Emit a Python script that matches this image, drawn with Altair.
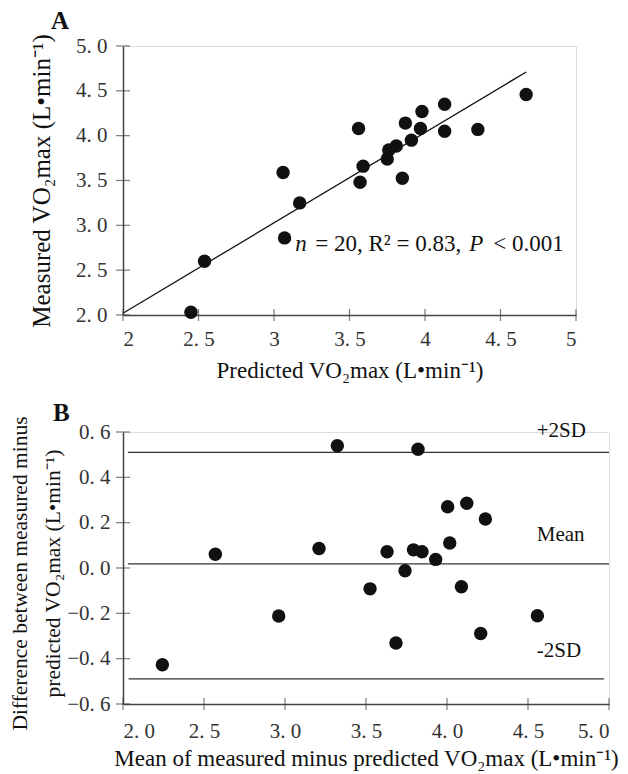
import altair as alt
import pandas as pd

# ---------------- Panel A data ----------------
pred_a = [2.45, 2.54, 3.06, 3.07, 3.17, 3.56, 3.57, 3.59, 3.75, 3.76,
          3.81, 3.85, 3.87, 3.91, 3.97, 3.98, 4.13, 4.13, 4.35, 4.67]
meas_a = [2.03, 2.60, 3.59, 2.86, 3.25, 4.08, 3.48, 3.66, 3.74, 3.84,
          3.885, 3.525, 4.14, 3.95, 4.08, 4.27, 4.05, 4.35, 4.07, 4.46]
fit_x = [2.0, 4.67]
fit_y = [2.02, 4.71]
ticks_a_x = [2.0, 2.5, 3.0, 3.5, 4.0, 4.5, 5.0]
ticks_a_y = [2.0, 2.5, 3.0, 3.5, 4.0, 4.5, 5.0]

# ---------------- Panel B data ----------------
mean_b = [2.243, 2.570, 2.961, 3.210, 3.323, 3.525, 3.630, 3.685, 3.741, 3.793,
          3.821, 3.846, 3.930, 4.004, 4.017, 4.089, 4.122, 4.208, 4.237, 4.558]
diff_b = [-0.427, 0.061, -0.212, 0.086, 0.539, -0.092, 0.072, -0.331, -0.012, 0.080,
          0.524, 0.072, 0.038, 0.270, 0.110, -0.083, 0.286, -0.289, 0.216, -0.211]
lim_names = ["+2SD", "Mean", "-2SD"]
lim_vals = [0.51, 0.0185, -0.489]
lim_x0 = [2.03, 2.03, 2.035]
lim_x1 = [5.0, 5.0, 4.97]
lim_label_x = [4.554, 4.554, 4.554]
lim_label_y = [0.603, 0.146, -0.368]
ticks_b_x = [2.0, 2.5, 3.0, 3.5, 4.0, 4.5, 5.0]
ticks_b_y = [-0.6, -0.4, -0.2, 0.0, 0.2, 0.4, 0.6]

SERIF = "Liberation Serif"
AXIS_C = "#444444"
LABEL_C = "#333333"
DOT_C = "#111111"

dfA = pd.DataFrame({"pred": pred_a, "meas": meas_a})
dfFit = pd.DataFrame({"x": fit_x, "y": fit_y})
dfTAx = pd.DataFrame({"v": ticks_a_x, "b": [ticks_a_y[0]] * len(ticks_a_x)})
dfTAy = pd.DataFrame({"v": ticks_a_y, "b": [ticks_a_x[0]] * len(ticks_a_y)})
dfAnn = pd.DataFrame({"x": [3.141], "y": [2.713]})

dfB = pd.DataFrame({"m": mean_b, "d": diff_b})
dfLim = pd.DataFrame({"name": lim_names, "v": lim_vals, "x0": lim_x0, "x1": lim_x1,
                      "lx": lim_label_x, "ly": lim_label_y})
dfTBx = pd.DataFrame({"v": ticks_b_x, "b": [ticks_b_y[0]] * len(ticks_b_x)})
dfTBy = pd.DataFrame({"v": ticks_b_y, "b": [ticks_b_x[0]] * len(ticks_b_y)})

dot_expr = "replace(format(datum.value, '.1f'), '.', '. ')"
ax_a_expr = "datum.value % 1 === 0 ? format(datum.value, 'd') : replace(format(datum.value, '.1f'), '.', '. ')"

common_axis = dict(ticks=False, tickSize=0, grid=False, domainColor=AXIS_C, domainWidth=1.5,
                   labelFont=SERIF, labelFontSize=21, labelColor=LABEL_C,
                   titleFont=SERIF, titleFontWeight="normal", titleColor="#111111")

# ---------------- Panel A ----------------
xA = alt.X("pred:Q", scale=alt.Scale(domain=[2, 5], nice=False, zero=False),
           axis=alt.Axis(values=ticks_a_x, labelExpr=ax_a_expr, labelPadding=13,
                         title="Predicted VO₂max (L•min⁻¹)", titleFontSize=23,
                         titlePadding=10, **common_axis))
yA = alt.Y("meas:Q", scale=alt.Scale(domain=[2, 5], nice=False, zero=False),
           axis=alt.Axis(values=ticks_a_y, labelExpr=dot_expr, labelPadding=16,
                         title="Measured VO₂max (L•min⁻¹)", titleFontSize=25,
                         titlePadding=21, **common_axis))

ptsA = alt.Chart(dfA).mark_circle(size=180, color=DOT_C, opacity=1).encode(x=xA, y=yA)
fitA = alt.Chart(dfFit).mark_line(color="#111111", strokeWidth=1.3).encode(x="x:Q", y="y:Q")
tickAx = alt.Chart(dfTAx).mark_tick(orient="vertical", size=12, thickness=1.2, color=AXIS_C).encode(
    x="v:Q", y="b:Q")
tickAy = alt.Chart(dfTAy).mark_tick(orient="horizontal", size=14, thickness=1.2, color=AXIS_C).encode(
    x="b:Q", y="v:Q")

ann_base = alt.Chart(dfAnn).encode(x="x:Q", y="y:Q")
ann_kw = dict(align="left", baseline="alphabetic", font=SERIF, fontSize=23, color="#111111")
annA = alt.layer(
    ann_base.mark_text(fontStyle="italic", dx=0, **ann_kw).encode(text=alt.value("n")),
    ann_base.mark_text(dx=20, **ann_kw).encode(text=alt.value("= 20, R² = 0.83,")),
    ann_base.mark_text(fontStyle="italic", dx=174, **ann_kw).encode(text=alt.value("P")),
    ann_base.mark_text(dx=198, **ann_kw).encode(text=alt.value("< 0.001")),
)

chartA = alt.layer(fitA, tickAx, tickAy, ptsA, annA).properties(
    width=453, height=269,
    title=alt.TitleParams("A", anchor="start", frame="group", dx=-72, font=SERIF,
                          fontSize=25, fontWeight="bold", color="#111111", offset=0),
)

# ---------------- Panel B ----------------
xB = alt.X("m:Q", scale=alt.Scale(domain=[2, 5], nice=False, zero=False),
           axis=alt.Axis(values=ticks_b_x, labelExpr=dot_expr, labelPadding=16,
                         title="Mean of measured minus predicted VO₂max (L•min⁻¹)",
                         titleFontSize=23, titlePadding=6, **common_axis))
yB = alt.Y("d:Q", scale=alt.Scale(domain=[-0.6, 0.6], nice=False, zero=False),
           axis=alt.Axis(values=ticks_b_y, labelExpr=dot_expr, labelPadding=13,
                         title=["Difference between measured minus", "predicted VO₂max (L•min⁻¹)"],
                         titleFontSize=21.5, titleLineHeight=33, titlePadding=14, maxExtent=45,
                         titleY=141, **common_axis))

ptsB = alt.Chart(dfB).mark_circle(size=180, color=DOT_C, opacity=1).encode(x=xB, y=yB)
limB = alt.Chart(dfLim).mark_rule(color="#333333", strokeWidth=1.3).encode(
    x="x0:Q", x2="x1", y="v:Q")
limTxt = alt.Chart(dfLim).mark_text(align="left", baseline="middle", font=SERIF, fontSize=21,
                                    color="#111111").encode(x="lx:Q", y="ly:Q", text="name:N")
tickBx = alt.Chart(dfTBx).mark_tick(orient="vertical", size=12, thickness=1.2, color=AXIS_C).encode(
    x="v:Q", y="b:Q")
tickBy = alt.Chart(dfTBy).mark_tick(orient="horizontal", size=14, thickness=1.2, color=AXIS_C).encode(
    x="b:Q", y="v:Q")

chartB = alt.layer(limB, tickBx, tickBy, ptsB, limTxt).properties(
    width=486, height=272,
    title=alt.TitleParams("B", anchor="start", frame="group", dx=-70, font=SERIF,
                          fontSize=25, fontWeight="bold", color="#111111", offset=-10),
)

chart = alt.vconcat(chartA, chartB, spacing=17).properties(
    padding={"left": 0, "top": 0, "right": 0, "bottom": 0}
).configure_view(stroke=None).configure(background="white")

chart.save("out.html", embed_options={"renderer": "svg", "actions": False})
